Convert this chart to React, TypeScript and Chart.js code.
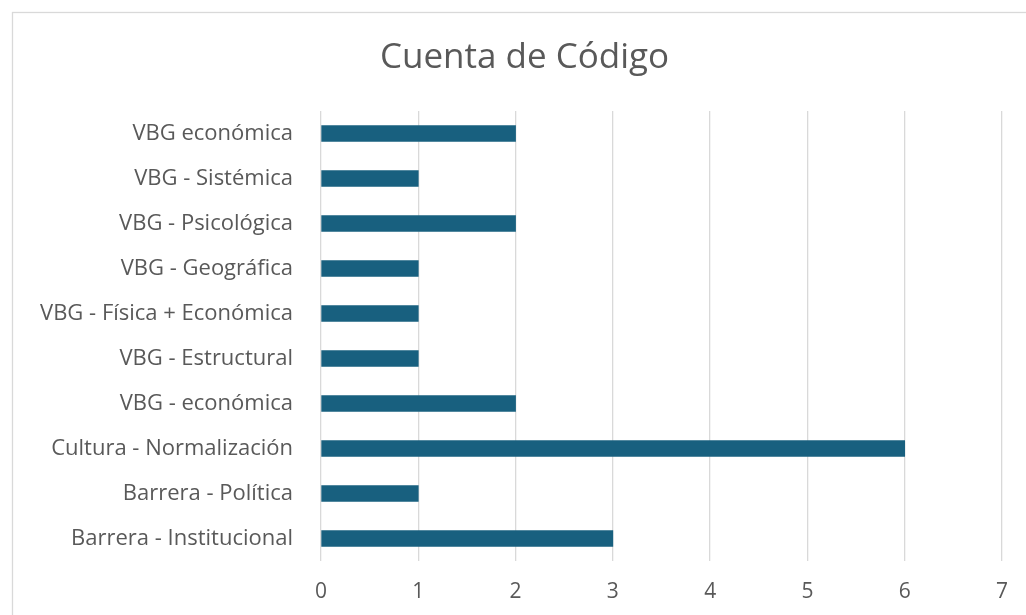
import React, { useEffect, useRef } from "react";
import { Chart, registerables } from "chart.js";

Chart.register(...registerables);

const categories = [
  "VBG económica",
  "VBG - Sistémica",
  "VBG - Psicológica",
  "VBG - Geográfica",
  "VBG - Física + Económica",
  "VBG - Estructural",
  "VBG - económica",
  "Cultura - Normalización",
  "Barrera - Política",
  "Barrera - Institucional",
];
const counts = [2, 1, 2, 1, 1, 1, 2, 6, 1, 3];
const xTicks = [0, 1, 2, 3, 4, 5, 6, 7];
const titleText = "Cuenta de Código";

const FONT = "'Open Sans', sans-serif";
const TEXT = "#595959";

const borderPlugin = {
  id: "frameBorder",
  beforeDraw(chart: any) {
    const ctx = chart.ctx;
    ctx.save();
    ctx.strokeStyle = "#d9d9d9";
    ctx.lineWidth = 1.3;
    ctx.strokeRect(12.5, 12.5, 1200, 1200);
    ctx.restore();
  },
};

export default function App() {
  const ref = useRef<HTMLCanvasElement | null>(null);
  useEffect(() => {
    document.body.style.margin = "0";
    const chart = new Chart(ref.current!, {
      type: "bar",
      data: {
        labels: categories,
        datasets: [
          {
            label: "Cuenta de Código",
            data: counts,
            backgroundColor: "#18607f",
            barThickness: 16,
          },
        ],
      },
      plugins: [borderPlugin],
      options: {
        indexAxis: "y",
        animation: false,
        responsive: false,
        maintainAspectRatio: false,
        layout: { padding: { left: 23, right: 0, top: 0, bottom: 0 } },
        plugins: {
          legend: { display: false },
          tooltip: { enabled: false },
          title: {
            display: true,
            text: titleText,
            color: TEXT,
            font: { family: FONT, size: 35, weight: "normal", lineHeight: 1.2 },
            padding: { top: 37, bottom: 32 },
          },
        },
        scales: {
          x: {
            min: 0,
            max: 7,
            afterFit: (s: any) => {
              s.height = 54;
            },
            afterBuildTicks: (s: any) => {
              s.ticks = xTicks.map((v) => ({ value: v }));
            },
            ticks: {
              stepSize: 1,
              color: TEXT,
              padding: 18,
              font: { family: FONT, size: 21 },
            },
            grid: { color: "#d9d9d9", lineWidth: 1.3, drawTicks: false },
            border: { display: false },
          },
          y: {
            afterFit: (s: any) => {
              s.width = 298;
            },
            ticks: {
              color: TEXT,
              padding: 28,
              font: { family: FONT, size: 22 },
            },
            grid: { display: false, drawTicks: false },
            border: { display: false },
          },
          yRight: {
            position: "right",
            display: true,
            afterFit: (s: any) => {
              s.width = 24;
            },
            ticks: { display: false },
            grid: { display: false, drawTicks: false },
            border: { display: false },
          },
        },
      },
    });
    return () => chart.destroy();
  }, []);
  return (
    <div style={{ position: "fixed", left: 0, top: 0, width: 1026, height: 615 }}>
      <canvas ref={ref} width={1026} height={615} style={{ display: "block" }} />
    </div>
  );
}
